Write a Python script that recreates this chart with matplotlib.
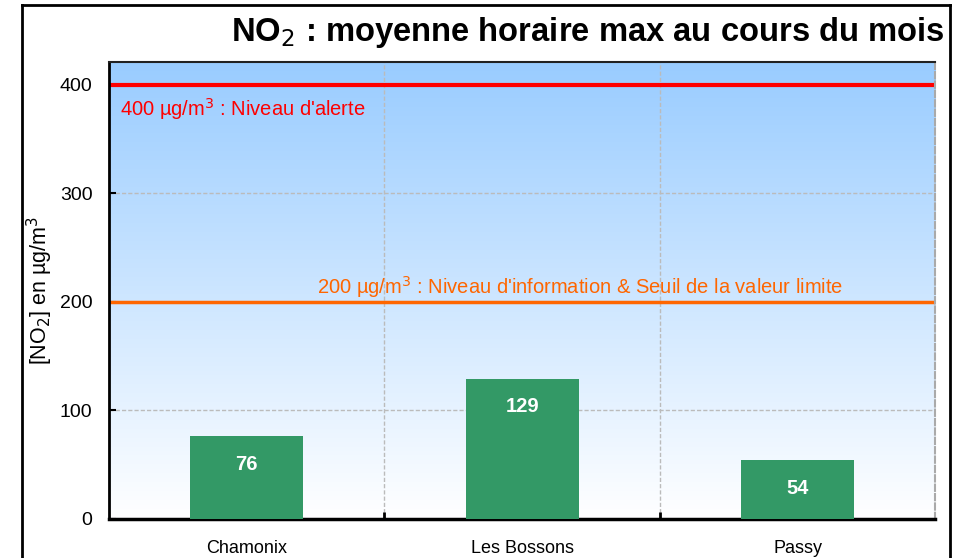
import numpy as np
import matplotlib.pyplot as plt

stations = ['Chamonix', 'Les Bossons', 'Passy']
no2_max = [76, 129, 54]
yticks = [0, 100, 200, 300, 400]
alert_level = 400
info_level = 200

plt.rcParams['font.family'] = ['Liberation Sans', 'DejaVu Sans']

fig = plt.figure(figsize=(9.64, 5.58), dpi=100)
ax = fig.add_axes([0.1131, 0.0699, 0.8571, 0.8190])

# outer frame around the chart (open at the bottom)
fig.add_artist(plt.Line2D([22 / 964, 22 / 964], [0, 1 - 5 / 558], color='black', lw=2, transform=fig.transFigure))
fig.add_artist(plt.Line2D([22 / 964, 950 / 964], [1 - 5 / 558, 1 - 5 / 558], color='black', lw=2, transform=fig.transFigure))
fig.add_artist(plt.Line2D([950 / 964, 950 / 964], [0, 1 - 5 / 558], color='black', lw=2, transform=fig.transFigure))

x = np.arange(len(stations))
ax.set_xlim(-0.5, len(stations) - 0.5)
ax.set_ylim(0, 421)

# blue to white gradient background
grad = np.linspace(0, 1, 256).reshape(-1, 1)
top = np.array([0.60, 0.80, 1.0])
bottom = np.array([1.0, 1.0, 1.0])
img = bottom + (top - bottom) * grad[..., None]
ax.imshow(img, extent=[-0.5, len(stations) - 0.5, 0, 421], origin='lower',
          aspect='auto', zorder=0)

# grid
for yv in yticks[1:4]:
    ax.axhline(yv, color='#bbbbbb', lw=1, ls=(0, (3, 1.5)), zorder=1)
for xv in x[:-1] + 0.5:
    ax.axvline(xv, color='#bbbbbb', lw=1, ls=(0, (3, 1.5)), zorder=1)

ax.bar(x, no2_max, width=0.41, color='#339966', zorder=3)
for xi, v in zip(x, no2_max):
    ax.annotate(str(v), (xi, v), xytext=(0, -20), textcoords='offset points',
                ha='center', va='center', color='white', fontsize=14.5,
                fontweight='bold', zorder=4)

ax.axhline(alert_level, color='#ff0000', lw=3, zorder=2)
ax.axhline(info_level, color='#ff6600', lw=2.5, zorder=2)
ax.text(-0.46, alert_level - 10, '400 µg/m$^3$ : Niveau d\'alerte', color='#ff0000',
        fontsize=14.5, ha='left', va='top', zorder=4)
ax.text(1.211, info_level + 2, '200 µg/m$^3$ : Niveau d\'information & Seuil de la valeur limite',
        color='#ff6600', fontsize=14.5, ha='center', va='bottom', zorder=4)

ax.set_yticks(yticks)
ax.set_yticklabels([str(t) for t in yticks], fontsize=14)
ax.set_xticks(x)
ax.set_xticklabels(stations, fontsize=13)
ax.set_xticks(x[:-1] + 0.5, minor=True)
ax.tick_params(axis='x', which='major', length=0, pad=15)
ax.tick_params(axis='x', which='minor', direction='in', length=5, width=2)
ax.tick_params(axis='y', direction='in', length=5, width=1.5, pad=12)

ax.spines['left'].set_linewidth(2)
ax.spines['bottom'].set_linewidth(2.5)
ax.spines['top'].set_linewidth(1.5)
ax.spines['top'].set_color('#222222')
ax.spines['right'].set_color('#aaaaaa')
ax.spines['right'].set_linestyle((0, (3, 1.5)))
ax.spines['right'].set_linewidth(1.5)

ax.text(-0.0835, 0.5, '[NO$_2$] en µg/m$^3$', fontsize=15.5, rotation=90,
        ha='center', va='center', transform=ax.transAxes)

fig.text(945 / 964, 1 - 33 / 558, 'NO$_2$ : moyenne horaire max au cours du mois',
         fontsize=23.6, fontweight='bold', ha='right', va='center')

fig.savefig('out.png', dpi=100)
